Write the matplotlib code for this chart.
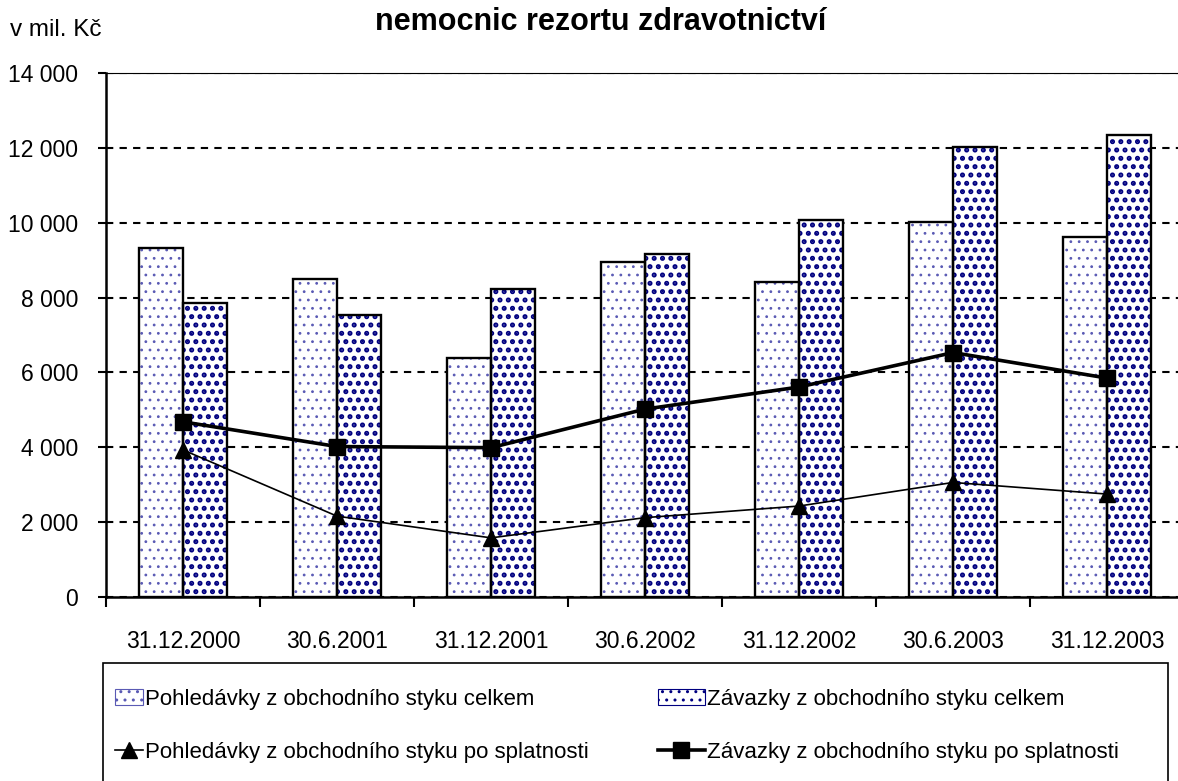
import matplotlib
matplotlib.use("Agg")
import matplotlib.pyplot as plt
from matplotlib.patches import Patch, Rectangle
from matplotlib.lines import Line2D
import numpy as np

plt.rcParams['font.family'] = ['Liberation Sans', 'DejaVu Sans']

dates = ["31.12.2000", "30.6.2001", "31.12.2001", "30.6.2002",
         "31.12.2002", "30.6.2003", "31.12.2003"]
pohledavky_celkem = [9320, 8500, 6380, 8950, 8420, 10020, 9620]
zavazky_celkem = [7850, 7530, 8230, 9170, 10070, 12020, 12340]
pohledavky_po_splatnosti = [3930, 2160, 1580, 2120, 2430, 3060, 2750]
zavazky_po_splatnosti = [4680, 4020, 3990, 5020, 5610, 6530, 5850]

label_pc = "Pohledávky z obchodního styku celkem"
label_zc = "Závazky z obchodního styku celkem"
label_ps = "Pohledávky z obchodního styku po splatnosti"
label_zs = "Závazky z obchodního styku po splatnosti"

navy = "#000080"
light_navy = "#5a5ab4"
W, H = 1178, 781
fig = plt.figure(figsize=(W / 100, H / 100), dpi=100)
ax = fig.add_axes([106 / W, 1 - 597 / H, 1078 / W, (597 - 73) / H])

x = np.arange(len(dates))
bw = 0.286

# hatched fills first, black outlines on top
with plt.rc_context({'hatch.linewidth': 0.8}):
    ax.bar(x - bw / 2, pohledavky_celkem, bw, color="white", edgecolor=light_navy,
           hatch="..", linewidth=0, zorder=2)
    p_handle = Patch(facecolor="white", edgecolor=light_navy, hatch="..", linewidth=0.8)
with plt.rc_context({'hatch.linewidth': 2.4}):
    ax.bar(x + bw / 2, zavazky_celkem, bw, color="white", edgecolor=navy,
           hatch="..", linewidth=0, zorder=2)
    z_handle = Patch(facecolor="white", edgecolor=navy, hatch="..", linewidth=0.8)
ax.bar(x - bw / 2, pohledavky_celkem, bw, fill=False, edgecolor="black",
       linewidth=1.7, zorder=3)
ax.bar(x + bw / 2, zavazky_celkem, bw, fill=False, edgecolor="black",
       linewidth=1.7, zorder=3)

ax.plot(x, pohledavky_po_splatnosti, color="black", lw=1.2, marker="^",
        markersize=11, zorder=4)
ax.plot(x, zavazky_po_splatnosti, color="black", lw=2.6, marker="s",
        markersize=11, zorder=5)

ax.set_xlim(-0.5, 6.5)
ax.set_ylim(0, 14000)
ax.set_yticks(range(0, 14001, 2000))
ax.set_yticklabels([f"{v:,}".replace(",", " ") for v in range(0, 14001, 2000)])
ax.yaxis.grid(True, color="black", linestyle=(0, (3.5, 3)), linewidth=1.5)
ax.set_axisbelow(True)

ax.set_xticks(x)
ax.set_xticklabels(dates)
ax.set_xticks(np.arange(-0.5, 7, 1), minor=True)
ax.tick_params(axis="x", which="major", length=0, pad=24, labelsize=16.5)
ax.tick_params(axis="x", which="minor", length=7, width=1.5, direction="out")
ax.tick_params(axis="y", length=6, width=1.5, pad=14, labelsize=16.5)

ax.spines["right"].set_visible(False)
ax.spines["top"].set_linewidth(0.8)
ax.spines["left"].set_linewidth(1.8)
ax.spines["bottom"].set_linewidth(1.8)

fig.text(10 / W, 1 - 30 / H, "v mil. Kč", fontsize=17.5, va="center", ha="left")
fig.text(601 / W, 1 - 22 / H, "nemocnic rezortu zdravotnictví", fontsize=22,
         fontweight="bold", va="center", ha="center")

# legend frame
fig.add_artist(Rectangle((103 / W, -0.05), 1065 / W, 1 - 663 / H + 0.05,
                         transform=fig.transFigure, fill=False,
                         edgecolor="black", linewidth=1.2))

leg_kw = dict(loc="upper left", fontsize=16, frameon=False, labelspacing=1.45,
              borderpad=0, borderaxespad=0, handletextpad=0.12)
leg1 = fig.legend([p_handle, Line2D([], [], color="black", lw=1.2, marker="^", markersize=11)],
                  [label_pc, label_ps], bbox_to_anchor=(115 / W, 1 - 689 / H),
                  handlelength=1.25, **leg_kw)
leg2 = fig.legend([z_handle, Line2D([], [], color="black", lw=2.6, marker="s", markersize=11)],
                  [label_zc, label_zs], bbox_to_anchor=(658 / W, 1 - 689 / H),
                  handlelength=2.1, **leg_kw)

fig.savefig("out.png", dpi=100)
